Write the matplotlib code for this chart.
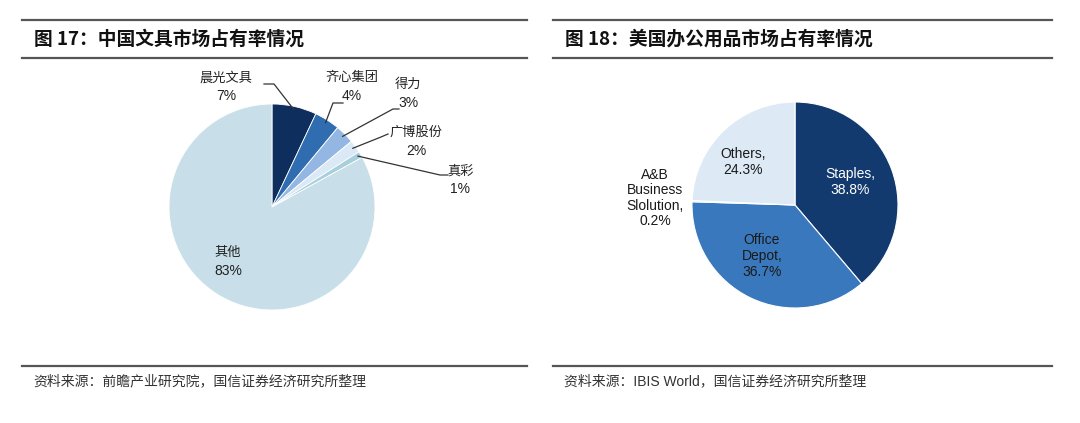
import matplotlib as mpl
import matplotlib.pyplot as plt
import numpy as np

mpl.use('Agg')
plt.rcParams['font.family'] = ['Liberation Sans', 'Noto Sans CJK SC', 'DejaVu Sans']

# China stationery market share
cn_names = ['晨光文具', '齐心集团', '得力', '广博股份', '真彩', '其他']
cn_share = [7, 4, 3, 2, 1, 83]
cn_colors = ['#0e2f5e', '#2f6cb0', '#93b7e2', '#dbe8f6', '#a7cfdc', '#c8dfe9']

# US office supplies market share
us_names = ['Staples', 'Office\nDepot', 'A&B\nBusiness\nSlolution', 'Others']
us_share = [38.8, 36.7, 0.2, 24.3]
us_colors = ['#123a6e', '#3a78bd', '#a9c6e6', '#dde9f5']

W, H = 1080, 423
fig = plt.figure(figsize=(W / 100, H / 100), dpi=100)
fig.patch.set_facecolor('white')

R = 103  # pie radius in px


def px_axes(x0, x1, y0, y1, cx, cy):
    # axes spanning pixel box, data units = pie radius, pie centred at (0, 0)
    ax = fig.add_axes([x0 / W, 1 - y1 / H, (x1 - x0) / W, (y1 - y0) / H])
    return ax, ((x0 - cx) / R, (x1 - cx) / R), ((cy - y1) / R, (cy - y0) / R)


def frame(x0, x1, title, source):
    for y in (20, 58, 366):
        fig.add_artist(plt.Line2D([x0 / W, x1 / W], [1 - y / H, 1 - y / H],
                                  color='#555555', lw=1.6))
    fig.text((x0 + 12) / W, 1 - 39 / H, title, fontsize=13.5, fontweight='bold',
             va='center', ha='left', color='#111111',
             family=['Noto Sans CJK SC', 'DejaVu Sans'])
    fig.text((x0 + 11) / W, 1 - 381 / H, source, fontsize=10, va='center',
             ha='left', color='#333333',
             family=['Liberation Sans', 'Noto Sans CJK SC'])


frame(22, 527, '图 17：中国文具市场占有率情况', '资料来源：前瞻产业研究院，国信证券经济研究所整理')
frame(553, 1052, '图 18：美国办公用品市场占有率情况', '资料来源：IBIS World，国信证券经济研究所整理')

# ---- left pie ----
ax1, xl, yl = px_axes(22, 527, 60, 365, 272, 207)
wedges, _ = ax1.pie(cn_share, colors=cn_colors, startangle=90, counterclock=False,
                    radius=1, wedgeprops=dict(edgecolor='white', linewidth=0.6))
ax1.set_xlim(*xl)
ax1.set_ylim(*yl)
ax1.set_aspect('equal')
ax1.axis('off')

# label positions (px) and leader path from label end to elbow (px)
lab_pos = [(226, 87), (352, 87), (408, 94), (416, 142), (460, 180), (228, 262)]
leaders = [[(264, 84), (274, 84)], [(343, 103), (333, 103)], [(399, 109), (393, 109)],
           [(388, 134), (381, 137)], [(448, 175), (440, 175)], None]


def to_d(p, cx=272, cy=207):
    return ((p[0] - cx) / R, (cy - p[1]) / R)


for w, name, v, pos, path in zip(wedges, cn_names, cn_share, lab_pos, leaders):
    lx, ly = to_d(pos)
    ax1.text(lx, ly + 0.09, name, ha='center', va='center', fontsize=9.5,
             color='#222222', family=['Noto Sans CJK SC', 'DejaVu Sans'])
    ax1.text(lx, ly - 0.09, f'{v}%', ha='center', va='center', fontsize=10,
             color='#222222')
    if path is not None:
        ang = np.deg2rad((w.theta1 + w.theta2) / 2)
        pts = [to_d(p) for p in path] + [(0.97 * np.cos(ang), 0.97 * np.sin(ang))]
        ax1.plot([p[0] for p in pts], [p[1] for p in pts], color='#333333', lw=0.9)

# ---- right pie ----
ax2, xl, yl = px_axes(553, 1052, 60, 365, 795, 205)
wedges2, _ = ax2.pie(us_share, colors=us_colors, startangle=90, counterclock=False,
                     radius=1, wedgeprops=dict(edgecolor='white', linewidth=0.8))
ax2.set_xlim(*xl)
ax2.set_ylim(*yl)
ax2.set_aspect('equal')
ax2.axis('off')

us_pos = [(850, 182), (762, 256), (655, 198), (743, 162)]
us_txt = ['white', '#1a1a1a', '#1a1a1a', '#1a1a1a']
for name, v, pos, c in zip(us_names, us_share, us_pos, us_txt):
    lx, ly = to_d(pos, 795, 205)
    ax2.text(lx, ly, f'{name},\n{v}%', ha='center', va='center', fontsize=10,
             color=c, linespacing=1.15)

fig.savefig('out.png', dpi=100, facecolor='white')
